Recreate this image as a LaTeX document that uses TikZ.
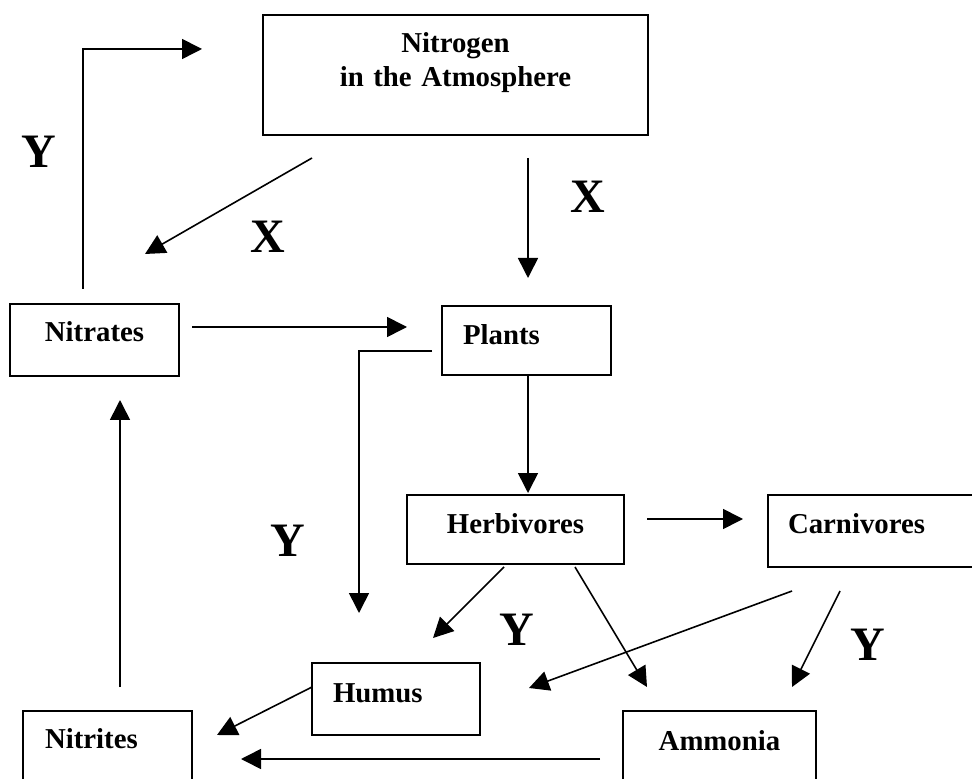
\documentclass[tikz,border=0pt]{standalone}
\usepackage{fontspec}
\setmainfont{Liberation Serif}
\usetikzlibrary{arrows.meta}

\begin{document}
\begin{tikzpicture}[x=0.5pt, y=-0.5pt, >={Triangle[length=10pt,width=10pt]}, line width=0.8pt]
        \tikzset{
           box/.style={
                        rectangle,
                        draw=black,
                        line width=1pt,
                        anchor=north west,
                        inner ysep=0pt,
                        outer sep=0pt,
                        text=black,
                        font=\fontsize{14.4pt}{17pt}\selectfont\bfseries
                       },
           centred/.style={
                        inner xsep=0pt,
                        align=center
                       },
           padded/.style={
                        inner xsep=#1,
                        align=left
                       },
           flow/.style={
                        ->
                       },
           letter/.style={
                        inner sep=0pt,
                        text=black,
                        font=\fontsize{24pt}{28pt}\selectfont\bfseries
                       },
                 };
        \useasboundingbox (0,0) rectangle (972,779);
        \clip (0,0) rectangle (972,779);
    %--------------------
        \node[box, centred, text width=192.5pt, text height=19pt, text depth=41pt]     (atmosphere) at (263,15)  {Nitrogen\\in the Atmosphere};

        \node[box, centred, text width=84.5pt, text height=19pt, text depth=17pt]      (nitrates)   at (10,304)  {Nitrates};
        \node[box, padded=10.5pt, text width=63.5pt, text height=19.5pt, text depth=15pt] (plants)  at (442,306) {Plants};

        \node[box, centred, text width=108.5pt, text height=19pt, text depth=15.5pt]   (herbivores) at (407,495) {Herbivores};
        \node[box, padded=10pt, text width=91pt, text height=19pt, text depth=17pt]    (carnivores) at (768,495) {Carnivores};

        \node[box, padded=10.5pt, text width=63pt, text height=19.5pt, text depth=16.5pt] (humus)   at (312,663) {Humus};
        \node[box, padded=11pt, text width=62.5pt, text height=18.5pt, text depth=17.5pt] (nitrites) at (23,711) {Nitrites};
        \node[box, centred, text width=96.5pt, text height=19.5pt, text depth=16.5pt]  (ammonia)    at (623,711) {Ammonia};
    %--------------------
        \node[letter] (yNitrates)   at (39,151.5)  {Y};
        \node[letter] (xNitrates)   at (268,236.5) {X};
        \node[letter] (xPlants)     at (588,196.5) {X};
        \node[letter] (yHumus)      at (287.5,541) {Y};
        \node[letter] (yHerbivores) at (517,630)   {Y};
        \node[letter] (yCarnivores) at (868,645)   {Y};
    %--------------------
        \draw[flow] ([shift={(-11.5,-15)}]nitrates.north) -- ++(0,-240) -- ++(119,0);
        \draw[flow] ([shift={(-10,10.5)}]plants.west) -| ([shift={(47,-50)}]humus.north west);

        \path[flow] ([shift={(49,23)}]atmosphere.south west)  edge ([shift={(135,-50)}]nitrates.north west)
                    ([shift={(265,23)}]atmosphere.south west) edge ([shift={(86,-28)}]plants.north west)

                    ([shift={(13,-13)}]nitrates.east)         edge ([shift={(-35,-13.5)}]plants.west)
                    ([shift={(1.5,0)}]plants.south)           edge ([shift={(12.5,-2)}]herbivores.north)

                    ([shift={(23,-10.5)}]herbivores.east)     edge ([shift={(-25,-12)}]carnivores.west)
                    ([shift={(97,3)}]herbivores.south west)   edge ([shift={(121,-25)}]humus.north west)
                    ([shift={(168,3)}]herbivores.south west)  edge ([shift={(24,-24)}]ammonia.north west)

                    ([shift={(24,24)}]carnivores.south west)  edge ([shift={(217,25)}]humus.north west)
                    ([shift={(72,24)}]carnivores.south west)  edge ([shift={(169,-24)}]ammonia.north west)

                    ([shift={(0,-12)}]humus.west)             edge ([shift={(25,24)}]nitrites.north east)
                    ([shift={(-23,12)}]ammonia.west)          edge ([shift={(49,48)}]nitrites.north east)

                    ([shift={(12.5,-24)}]nitrites.north)      edge ([shift={(25.5,24)}]nitrates.south);
    \end{tikzpicture}
\end{document}
